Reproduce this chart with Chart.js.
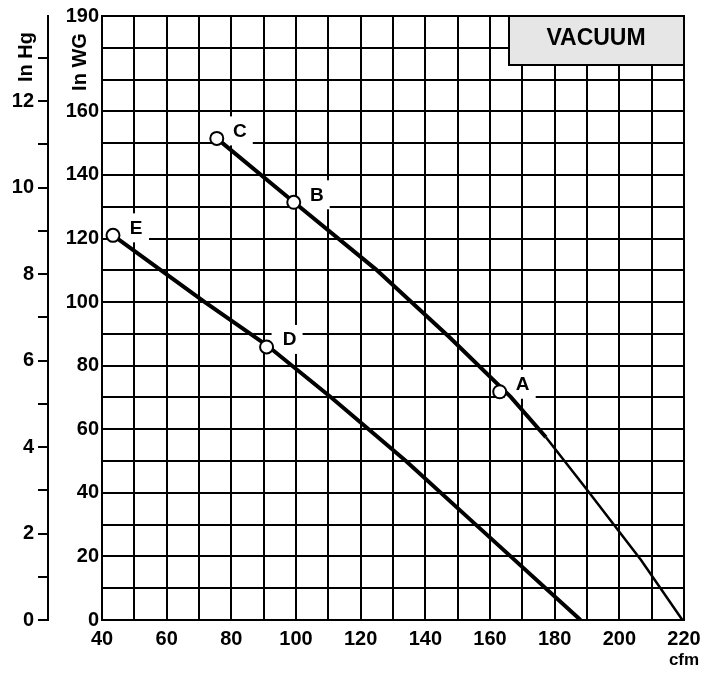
<!DOCTYPE html>
<html>
<head>
<meta charset="utf-8">
<script src="https://cdn.jsdelivr.net/npm/chart.js@4.4.0/dist/chart.umd.min.js"></script>
<style>
  html, body { margin: 0; padding: 0; background: #fff; }
  #wrap { width: 719px; height: 677px; }
</style>
</head>
<body>
<div id="wrap"><canvas id="curva" width="719" height="677"></canvas></div>
<script>
// curva superior C-B-A (cfm / In WG), tramo grueso y tramo fino
const supX = [75.5, 99.3, 124.7, 147.4, 166.4, 177.3];
const supY = [151.5, 131.5, 110.3, 89, 70.2, 57.5];
const finX = [177.3, 190, 206.7, 219.5];
const finY = [57.5, 41, 18.9, 0];

// curva inferior E-D
const infX = [43.4, 71.8, 90.9, 110.9, 134, 155.6, 188];
const infY = [121, 100, 86.5, 70, 50, 30, 0];

// puntos marcados
const puntos = ['A', 'B', 'C', 'D', 'E'];
const puntosX = [163, 99.3, 75.5, 90.9, 43.4];
const puntosY = [71.8, 131.4, 151.5, 85.9, 121];

// etiquetas de los ejes
const xLabels = [40, 60, 80, 100, 120, 140, 160, 180, 200, 220];
const wgLabels = [0, 20, 40, 60, 80, 100, 120, 140, 160, 190];
const hgLabels = [0, 2, 4, 6, 8, 10, 12];

const FUENTE = "Arial, 'Liberation Sans', sans-serif";

function pares(xs, ys) {
  var out = [];
  for (var i = 0; i < xs.length; i++) out.push({x: xs[i], y: ys[i]});
  return out;
}

// cajas blancas con letras, caja VACUUM y titulos
const textos = {
  id: 'textos',
  beforeDatasetsDraw(chart) {
    const ctx = chart.ctx, area = chart.chartArea;
    const sx = chart.scales.x, sy = chart.scales.y;
    ctx.save();
    // caja VACUUM
    ctx.fillStyle = '#e6e6e6';
    ctx.fillRect(area.right - 175, area.top, 175, 49);
    ctx.strokeStyle = '#000';
    ctx.lineWidth = 2;
    ctx.strokeRect(area.right - 175, area.top, 175, 49);
    ctx.fillStyle = '#000';
    ctx.font = 'bold 23px ' + FUENTE;
    ctx.textAlign = 'center';
    ctx.textBaseline = 'middle';
    ctx.fillText('VACUUM', area.right - 88, area.top + 23);
    // letras
    ctx.font = 'bold 19px ' + FUENTE;
    for (var i = 0; i < puntos.length; i++) {
      var px = sx.getPixelForValue(puntosX[i]);
      var py = sy.getPixelForValue(puntosY[i]);
      ctx.fillStyle = '#fff';
      ctx.fillRect(px + 5, py - 22, 31, 29);
      ctx.fillStyle = '#000';
      ctx.fillText(puntos[i], px + 23, py - 7);
    }
    ctx.restore();
  },
  afterDraw(chart) {
    const ctx = chart.ctx, area = chart.chartArea;
    ctx.save();
    ctx.fillStyle = '#000';
    ctx.textAlign = 'center';
    ctx.textBaseline = 'middle';
    ctx.font = 'bold 17px ' + FUENTE;
    ctx.fillText('cfm', area.right, area.bottom + 40);
    ctx.font = 'bold 20px ' + FUENTE;
    ctx.translate(26, 57);
    ctx.rotate(-Math.PI / 2);
    ctx.fillText('In Hg', 0, 0);
    ctx.restore();
    ctx.save();
    ctx.fillStyle = '#000';
    ctx.textAlign = 'center';
    ctx.textBaseline = 'middle';
    ctx.font = 'bold 20px ' + FUENTE;
    ctx.translate(80, 62);
    ctx.rotate(-Math.PI / 2);
    ctx.fillText('In WG', 0, 0);
    ctx.restore();
  }
};

Chart.defaults.font.family = FUENTE;
Chart.defaults.font.weight = 'bold';
Chart.defaults.font.size = 20;
Chart.defaults.color = '#000';

const grafico = new Chart(document.getElementById('curva'), {
  type: 'line',
  data: {
    datasets: [
      {
        label: 'puntos',
        data: pares(puntosX, puntosY),
        showLine: false,
        pointRadius: 6.5,
        pointBackgroundColor: '#fff',
        pointBorderColor: '#000',
        pointBorderWidth: 2,
        order: 0
      },
      {
        label: 'superior',
        data: pares(supX, supY),
        borderColor: '#000',
        borderWidth: 4,
        pointRadius: 0,
        tension: 0,
        order: 1
      },
      {
        label: 'superior fino',
        data: pares(finX, finY),
        borderColor: '#000',
        borderWidth: 2.5,
        pointRadius: 0,
        tension: 0,
        order: 1
      },
      {
        label: 'inferior',
        data: pares(infX, infY),
        borderColor: '#000',
        borderWidth: 4,
        pointRadius: 0,
        tension: 0,
        order: 1
      }
    ]
  },
  options: {
    responsive: false,
    animation: false,
    devicePixelRatio: 1,
    layout: { padding: { top: 15, right: 35, bottom: 0, left: 0 } },
    plugins: {
      legend: { display: false },
      tooltip: { enabled: false }
    },
    scales: {
      x: {
        type: 'linear',
        min: 40,
        max: 220,
        afterFit: function (s) { s.height = 57; },
        grid: { color: '#000', lineWidth: 2, drawTicks: false },
        border: { color: '#000', width: 2 },
        ticks: {
          stepSize: 10,
          autoSkip: false,
          maxRotation: 0,
          padding: 7,
          callback: function (v) { return xLabels.includes(v) ? v : ''; }
        }
      },
      y: {
        type: 'linear',
        position: 'left',
        weight: 0,
        min: 0,
        max: 190,
        afterFit: function (s) { s.width = 54; },
        grid: { color: '#000', lineWidth: 2, drawTicks: false },
        border: { color: '#000', width: 2 },
        ticks: {
          stepSize: 10,
          autoSkip: false,
          padding: 3,
          callback: function (v) { return wgLabels.includes(v) ? v : ''; }
        }
      },
      y2: {
        type: 'linear',
        position: 'left',
        weight: 1,
        min: 0,
        max: 190 / 13.6,
        afterFit: function (s) { s.width = 48; },
        grid: { drawOnChartArea: false, color: '#000', lineWidth: 2, tickLength: 10 },
        border: { color: '#000', width: 2 },
        ticks: {
          stepSize: 1,
          includeBounds: false,
          autoSkip: false,
          padding: 4,
          callback: function (v) { return hgLabels.includes(v) ? v : ''; }
        }
      }
    }
  },
  plugins: [textos]
});
</script>
</body>
</html>
